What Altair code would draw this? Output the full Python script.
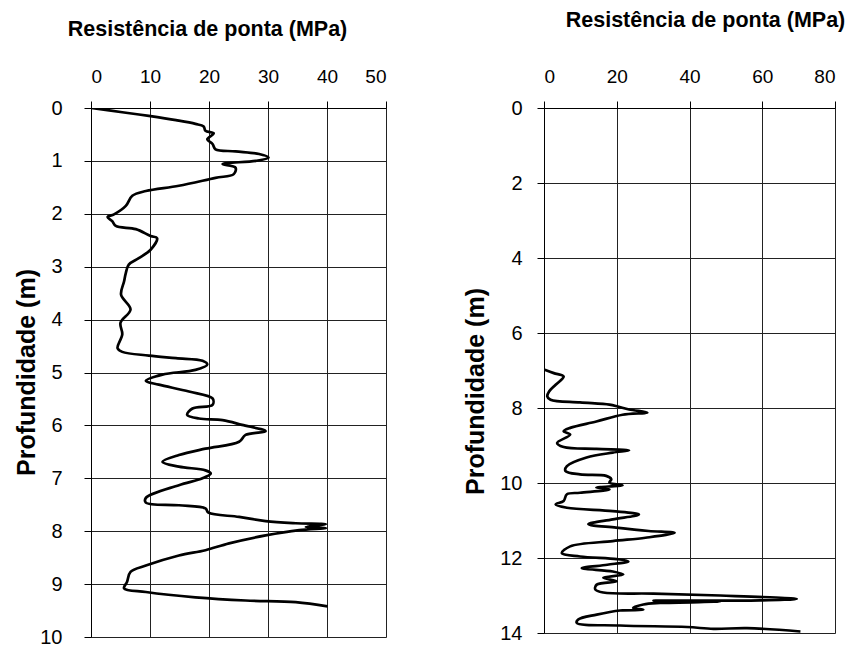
import altair as alt
import pandas as pd

# Left profile (CPT 1): depth (m) and cone resistance (MPa)
depth_left = [0, 0.08, 0.15, 0.23, 0.30, 0.35, 0.43, 0.48, 0.59, 0.68, 0.78, 0.82, 0.87, 0.94, 1.0,
              1.06, 1.13, 1.25, 1.32, 1.47, 1.57, 1.66, 1.85, 2.01, 2.06, 2.14, 2.23, 2.29, 2.42, 2.46,
              2.68, 2.84, 2.96, 3.12, 3.28, 3.53, 3.81, 4.06, 4.28, 4.54, 4.61, 4.68, 4.73, 4.78, 4.85,
              4.95, 5.04, 5.16, 5.23, 5.36, 5.49, 5.61, 5.68, 5.80, 5.87, 5.90, 5.99, 6.11, 6.18, 6.31,
              6.44, 6.56, 6.69, 6.78, 6.85, 6.91, 7.0, 7.13, 7.37, 7.46, 7.51, 7.57, 7.65, 7.73, 7.81,
              7.85, 7.87, 7.92, 7.94, 7.98, 8.08, 8.23, 8.36, 8.46, 8.65, 8.77, 8.96, 9.08, 9.15, 9.25,
              9.31, 9.34, 9.42]
qc_left = [0, 5.3, 9.8, 14.4, 17.7, 19.1, 19.4, 20.8, 19.7, 20.6, 21.1, 24.5, 28.5, 30.1, 27.9,
           22.3, 24.5, 24.2, 21.1, 14.9, 9.3, 7.0, 5.9, 3.9, 2.8, 3.6, 4.2, 7.6, 10.1, 11.2,
           10.1, 8.1, 6.4, 5.9, 5.6, 5.1, 6.7, 5.0, 5.3, 4.5, 5.3, 9.8, 14.4, 18.9, 19.7,
           17.7, 12.1, 9.3, 11.5, 16.6, 20.6, 20.6, 17.2, 16.3, 18.3, 22.3, 25.6, 29.6, 26.2, 25.1,
           19.4, 14.9, 12.1, 14.9, 19.4, 20.3, 18.9, 14.9, 9.3, 9.3, 14.9, 19.4, 19.9, 25.1, 29.6,
           34.7, 39.8, 36.4, 39.8, 35.3, 29.6, 23.4, 19.4, 14.9, 9.3, 6.7, 6.1, 5.6, 9.3, 17.7,
           26.2, 34.7, 40.1]

# Right profile (CPT 2)
depth_right = [6.98, 7.07, 7.16, 7.38, 7.56, 7.69, 7.78, 7.85, 7.91, 7.96, 8.04, 8.12, 8.18, 8.36, 8.53,
               8.62, 8.71, 8.93, 9.04, 9.09, 9.13, 9.19, 9.32, 9.55, 9.68, 9.77, 9.81, 9.90, 9.99, 10.06,
               10.12, 10.17, 10.26, 10.30, 10.48, 10.57, 10.66, 10.75, 10.84, 10.97, 11.10, 11.19, 11.28,
               11.33, 11.46, 11.55, 11.69, 11.87, 11.96, 12.03, 12.09, 12.18, 12.27, 12.36, 12.44, 12.53,
               12.62, 12.71, 12.84, 12.92, 12.95, 13.0, 13.09, 13.13, 13.14, 13.16, 13.20, 13.24, 13.33,
               13.38, 13.40, 13.51, 13.64, 13.73, 13.80, 13.84, 13.89, 13.87, 13.96]
qc_right = [0.2, 2.7, 5.4, 3.2, 1.4, 0.9, 1.8, 9.9, 18.0, 20.3, 23.4, 28.4, 21.6, 14.4, 7.2,
            5.4, 7.2, 3.6, 5.4, 14.4, 23.4, 18.9, 11.7, 6.3, 5.9, 9.9, 17.1, 18.5, 18.0, 21.6,
            14.4, 18.0, 9.9, 6.3, 5.4, 3.2, 6.3, 18.9, 26.1, 18.9, 12.2, 19.8, 28.8,
            35.9, 27.9, 18.9, 7.2, 4.9, 9.9, 20.0, 23.2, 17.4, 10.4, 18.9, 21.8, 16.3,
            20.0, 14.5, 14.1, 16.3, 30.1, 48.4, 69.5, 59.4, 30.1, 48.4, 31.9, 27.3, 24.5,
            27.3, 20.9, 14.5, 9.4, 9.0, 20.9, 39.3, 46.6, 55.8, 70.5]

x_ticks_left = [0, 10, 20, 30, 40, 50]
y_ticks_left = list(range(0, 11))
x_ticks_right = [0, 20, 40, 60, 80]
y_ticks_right = [0, 2, 4, 6, 8, 10, 12, 14]

x_title = "Resistência de ponta (MPa)"
y_title = "Profundidade (m)"

df_left = pd.DataFrame({"i": range(len(depth_left)), "depth": depth_left, "qc": qc_left})
df_right = pd.DataFrame({"i": range(len(depth_right)), "depth": depth_right, "qc": qc_right})

FONT = "Liberation Sans"
GRID = "#222222"


def panel(df, xdom, xt, ydom, yt, w, h, xtx, xty, ytx, yty, ylabpad):
    xaxis = alt.Axis(orient="top", values=xt, grid=True, gridColor=GRID, gridOpacity=1,
                     domainColor="black", tickColor="black", tickSize=7, labelFontSize=19,
                     labelPadding=15, labelColor="black", labelFont=FONT, title=x_title,
                     titleFont=FONT, titleFontSize=21.5, titleFontWeight="bold", titleColor="black",
                     titleX=xtx, titleY=xty, titleAlign="center", titleBaseline="middle",
                     titleAngle=0)
    yaxis = alt.Axis(orient="left", values=yt, grid=True, gridColor=GRID, gridOpacity=1,
                     domainColor="black", tickColor="black", tickSize=7, labelFontSize=20,
                     labelPadding=ylabpad, labelColor="black", labelFont=FONT, title=y_title,
                     titleFont=FONT, titleFontSize=25, titleFontWeight="bold", titleColor="black",
                     titleX=ytx, titleY=yty, titleAngle=-90, titleAlign="center",
                     titleBaseline="middle")
    return alt.Chart(df).mark_line(color="black", strokeWidth=2.7, clip=True,
                                   interpolate="catmull-rom").encode(
        x=alt.X("qc:Q", scale=alt.Scale(domain=xdom, nice=False, zero=False), axis=xaxis),
        y=alt.Y("depth:Q", scale=alt.Scale(domain=ydom, reverse=True, nice=False), axis=yaxis),
        order=alt.Order("i:Q"),
    ).properties(width=w, height=h)


left = panel(df_left, [0, 50], x_ticks_left, [0, 10], y_ticks_left, 295, 529,
             116, -79, -65, 264, 22)
right = panel(df_right, [0, 80], x_ticks_right, [0, 14], y_ticks_right, 291, 525,
              161, -88, -69, 283, 15)

chart = alt.hconcat(left, right, spacing=75).properties(
    padding={"left": 5, "top": 0, "right": 0, "bottom": 0}
).configure_view(stroke="#888888", strokeWidth=1.5).configure(background="white")

chart.save("out.html", embed_options={"renderer": "svg", "actions": False})
